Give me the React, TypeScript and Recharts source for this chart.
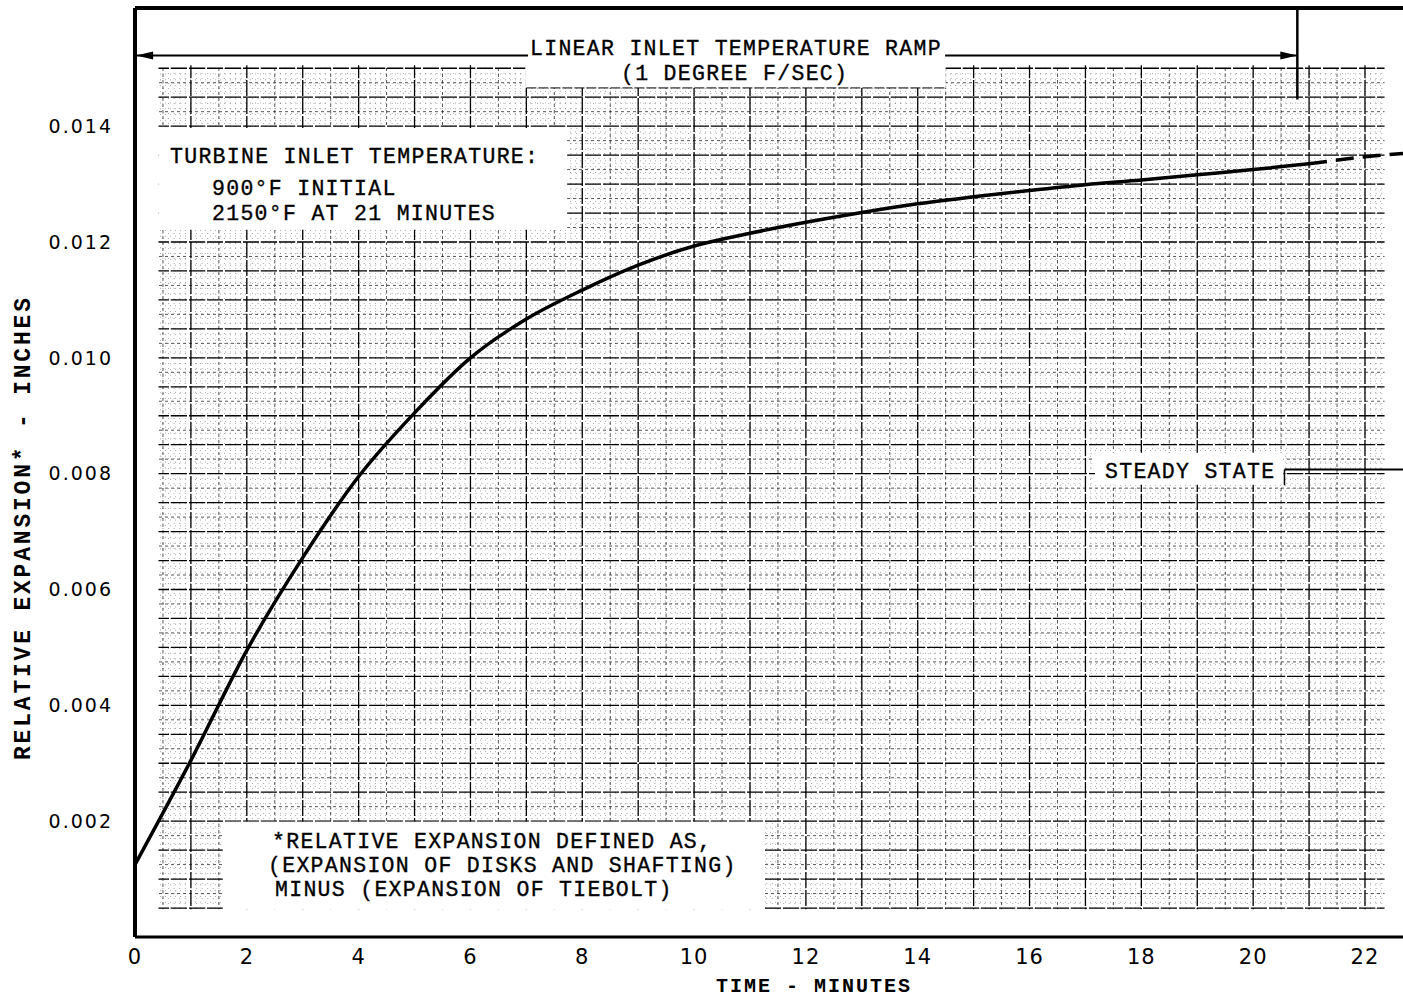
import React from 'react';
import {
  LineChart, Line, XAxis, YAxis, CartesianGrid,
  ReferenceArea, ReferenceLine, ReferenceDot
} from 'recharts';

// plot window (minutes / inches)
const X_MAX = 22.68;
const Y_MAX = 0.01604;

// measured curve, linear ramp part (0 - 21 min)
const rampMinutes = [0, 1, 2, 3, 4, 5, 6, 7, 8, 9, 10, 11, 12, 13, 14, 15, 16, 17, 18, 19, 20, 21];
const rampExpansion = [
  0.00125, 0.00305, 0.00495, 0.00655, 0.00795, 0.00905, 0.0100, 0.01067, 0.01117, 0.0116,
  0.01193, 0.01215, 0.01234, 0.01251, 0.01266, 0.01278, 0.01289, 0.01299, 0.01307, 0.01316,
  0.01325, 0.01335,
];

// dashed continuation (steady state)
const steadyMinutes = [21, 22, 22.68];
const steadyExpansion = [0.01335, 0.01347, 0.01353];

const xTicks = [0, 2, 4, 6, 8, 10, 12, 14, 16, 18, 20, 22];
const yTicks = [0.002, 0.004, 0.006, 0.008, 0.010, 0.012, 0.014];

// graph paper rulings
const range = (a: number, b: number, step: number) => {
  const out: number[] = [];
  for (let i = 0; a + i * step <= b + 1e-9; i++) out.push(+(a + i * step).toFixed(6));
  return out;
};
const majorX = range(1, 22, 1);
const majorY = range(0.0005, 0.015, 0.0005);
const halfX = range(0.5, 22, 1);
const halfY = range(0.00025, 0.015, 0.0005);
const fineX = range(0.1, 22.3, 0.1);
const fineY = range(0.0001, 0.015, 0.0001);

const rampData = rampMinutes.map((t, i) => ({ t, v: rampExpansion[i] }));
const steadyData = steadyMinutes.map((t, i) => ({ t, v: steadyExpansion[i] }));

const RAMP_Y = 0.01522;
const RAMP_END = 20.79;
const STEADY_Y = 0.00807;

const TYPE = '"Liberation Mono", "Courier New", monospace';
const SANS = '"DejaVu Sans", sans-serif';

const xGen = (vals: number[]) => (props: any) => {
  const { xAxis, offset } = props;
  if (xAxis && typeof xAxis.scale === 'function') return vals.map(v => xAxis.scale(v));
  return vals.map(v => offset.left + (v / X_MAX) * offset.width);
};
const yGen = (vals: number[]) => (props: any) => {
  const { yAxis, offset } = props;
  if (yAxis && typeof yAxis.scale === 'function') return vals.map(v => yAxis.scale(v));
  return vals.map(v => offset.top + (1 - v / Y_MAX) * offset.height);
};

const whiteAreas = [
  { x1: 0, x2: X_MAX, y1: 0.01505, y2: Y_MAX },
  { x1: 6.98, x2: 14.5, y1: 0.01466, y2: Y_MAX },
  { x1: 0, x2: 0.42, y1: 0, y2: Y_MAX },
  { x1: 0, x2: X_MAX, y1: 0, y2: 0.00048 },
  { x1: 22.35, x2: X_MAX, y1: 0, y2: Y_MAX },
  { x1: 0.42, x2: 7.73, y1: 0.01221, y2: 0.01397 },
  { x1: 1.57, x2: 11.25, y1: 0.00048, y2: 0.00199 },
  { x1: 17.17, x2: 20.54, y1: 0.00781, y2: 0.00836 },
];

const arrowLeft = (p: any) => (
  <polygon points={`${p.cx},${p.cy} ${p.cx + 17},${p.cy - 4} ${p.cx + 17},${p.cy + 4}`} fill="#000" />
);
const arrowRight = (p: any) => (
  <polygon points={`${p.cx},${p.cy} ${p.cx - 17},${p.cy - 4} ${p.cx - 17},${p.cy + 4}`} fill="#000" />
);

export default function App() {
  return (
    <div style={{ position: 'absolute', left: 0, top: 0, width: 1403, height: 999, background: '#fff', overflow: 'hidden' }}>
      <LineChart width={1403} height={999} margin={{ top: 8, right: 0, bottom: 0, left: 0 }}>
        <CartesianGrid
          verticalCoordinatesGenerator={xGen(fineX)}
          horizontalCoordinatesGenerator={yGen(fineY)}
          stroke="#444" strokeOpacity={0.45} strokeDasharray="1 4"
        />
        <CartesianGrid
          verticalCoordinatesGenerator={xGen(halfX)}
          horizontalCoordinatesGenerator={yGen(halfY)}
          stroke="#111" strokeOpacity={0.7} strokeDasharray="3 3"
        />
        <CartesianGrid
          verticalCoordinatesGenerator={xGen(majorX)}
          horizontalCoordinatesGenerator={yGen(majorY)}
          stroke="#000" strokeWidth={1.3} strokeDasharray="16 2"
        />
        {whiteAreas.map((a, i) => (
          <ReferenceArea key={i} x1={a.x1} x2={a.x2} y1={a.y1} y2={a.y2} fill="#fff" fillOpacity={1} stroke="none" />
        ))}
        <XAxis
          dataKey="t" type="number" domain={[0, X_MAX]} ticks={xTicks} allowDataOverflow
          height={62} tickLine={false} tickSize={0} tickMargin={12}
          axisLine={{ stroke: '#000', strokeWidth: 3 }}
          tick={{ fill: '#000', fontSize: 21, fontFamily: SANS, letterSpacing: 1 }}
        />
        <YAxis
          dataKey="v" type="number" domain={[0, Y_MAX]} ticks={yTicks} allowDataOverflow
          width={135} tickLine={false} tickSize={0} tickMargin={22}
          tickFormatter={(v: number) => v.toFixed(3)}
          axisLine={{ stroke: '#000', strokeWidth: 4 }}
          tick={{ fill: '#000', fontSize: 19, fontFamily: SANS, letterSpacing: 2 }}
        />
        <ReferenceLine y={Y_MAX} stroke="#000" strokeWidth={4} />
        <ReferenceLine segment={[{ x: 0, y: RAMP_Y }, { x: 7.03, y: RAMP_Y }]} stroke="#000" strokeWidth={2} />
        <ReferenceLine segment={[{ x: 14.49, y: RAMP_Y }, { x: RAMP_END, y: RAMP_Y }]} stroke="#000" strokeWidth={2} />
        <ReferenceLine segment={[{ x: RAMP_END, y: Y_MAX }, { x: RAMP_END, y: 0.01446 }]} stroke="#000" strokeWidth={2.5} />
        <ReferenceLine segment={[{ x: 7.0, y: 0.01466 }, { x: 14.5, y: 0.01466 }]} stroke="#000" strokeWidth={1} strokeDasharray="10 2" />
        <ReferenceLine segment={[{ x: 20.56, y: STEADY_Y }, { x: X_MAX, y: STEADY_Y }]} stroke="#000" strokeWidth={2} />
        <ReferenceLine segment={[{ x: 20.56, y: 0.0078 }, { x: 20.56, y: STEADY_Y }]} stroke="#000" strokeWidth={1.5} />
        <ReferenceDot x={0.02} y={RAMP_Y} r={3} shape={arrowLeft} />
        <ReferenceDot x={RAMP_END} y={RAMP_Y} r={3} shape={arrowRight} />
        <Line data={rampData} dataKey="v" type="monotone" stroke="#000" strokeWidth={3.5} dot={false} isAnimationActive={false} />
        <Line data={steadyData} dataKey="v" type="monotone" stroke="#000" strokeWidth={3.5} strokeDasharray="18 9" dot={false} isAnimationActive={false} />
      </LineChart>

      <svg width={1403} height={999} style={{ position: 'absolute', left: 0, top: 0, pointerEvents: 'none' }}>
        <g fontFamily={TYPE} fontSize={21.5} letterSpacing={1.3} fill="#000" stroke="#000" strokeWidth={0.35}>
          <text x={530} y={55}>LINEAR INLET TEMPERATURE RAMP</text>
          <text x={621} y={80}>(1 DEGREE F/SEC)</text>
          <text x={170} y={163}>TURBINE INLET TEMPERATURE:</text>
          <text x={212} y={195}>900°F INITIAL</text>
          <text x={212} y={220}>2150°F AT 21 MINUTES</text>
          <text x={1105} y={478}>STEADY STATE</text>
          <text x={272} y={848}>*RELATIVE EXPANSION DEFINED AS,</text>
          <text x={268} y={872}>(EXPANSION OF DISKS AND SHAFTING)</text>
          <text x={275} y={896}>MINUS (EXPANSION OF TIEBOLT)</text>
        </g>
        <text x={813} y={992} textAnchor="middle" fontFamily={TYPE} fontWeight="bold" fontSize={20}
          textLength={194} lengthAdjust="spacing" fill="#000">TIME - MINUTES</text>
        <text transform="translate(30,529) rotate(-90)" textAnchor="middle" fontFamily={TYPE} fontWeight="bold"
          fontSize={23} textLength={462} lengthAdjust="spacing" fill="#000">RELATIVE EXPANSION* - INCHES</text>
      </svg>
    </div>
  );
}
